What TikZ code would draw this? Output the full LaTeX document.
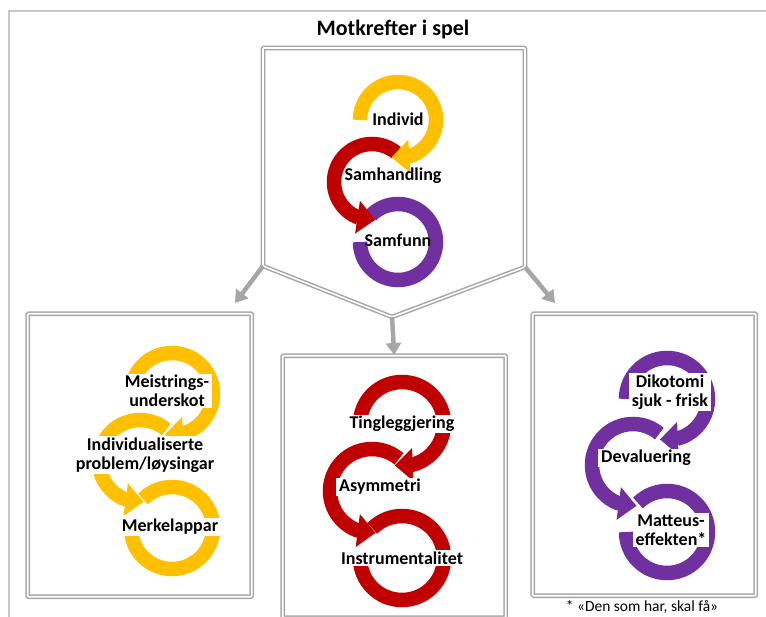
\documentclass[tikz,border=0pt]{standalone}
\usepackage{fontspec}
\setmainfont{Carlito}
\usetikzlibrary{arrows.meta,bending}

\definecolor{ringyellow}{RGB}{255,192,0}
\definecolor{ringred}{RGB}{192,0,0}
\definecolor{ringpurple}{RGB}{112,48,160}
\definecolor{framegray}{RGB}{166,166,166}
\definecolor{pagegray}{RGB}{200,200,200}

\tikzset{
  panel/.style={draw=framegray, line width=1.5pt, double=white, double distance=1.6pt, rounded corners=1pt},
  flow/.style={draw=framegray, line width=4.5pt, -{Triangle[width=15pt,length=12pt]}},
  band/.style={line width=14.5pt},
  bandhead/.style={-{Triangle[width=32pt,length=18pt]}},
  lbl/.style={font=\fontsize{18}{18.5}\selectfont\bfseries, align=center, inner sep=1pt},
  boxlbl/.style={lbl, fill=white, inner xsep=3pt, inner ysep=1.5pt},
}

% three linked circular arrows: #1 colour, #2 #3 #4 centres (top, middle, bottom), #5 radius
\newcommand{\ringtrio}[5]{%
  \draw[band, #1] ([shift={(-135:#5)}]#4) arc[start angle=-135, end angle=180, radius=#5];
  \draw[band, bandhead, #1] ([shift={(-50:#5)}]#3) arc[start angle=-50, end angle=-275, radius=#5];
  \draw[band, bandhead, #1] ([shift={(-180:#5)}]#2) arc[start angle=-180, end angle=100, radius=#5];
}

\begin{document}
\begin{tikzpicture}[x=1pt, y=-1pt]
\useasboundingbox (0,0) rectangle (766,617);

% page frame
\coordinate (fb) at (9,617);
\coordinate (fc) at (9,11);
\coordinate (fr) at (766,11);
\draw[pagegray, line width=1.5pt] (fb) -- (fc) -- (fr);

% title
\node[font=\fontsize{22}{26}\selectfont\bfseries] (title) at (393,30) {Motkrefter i spel};

% top panel (pentagon)
\coordinate (tA) at (263,48);
\coordinate (tB) at (525,48);
\coordinate (tR) at (525,267);
\coordinate (tV) at (392,317);
\coordinate (tL) at (263,266);
\draw[panel] (tA) -- (tB) -- (tR) -- (tV) -- (tL) -- cycle;

% bottom panels
\node[panel, anchor=north west, minimum width=224pt, minimum height=283pt, inner sep=0pt] (pl) at (27,313) {};
\node[panel, anchor=north west, minimum width=223pt, minimum height=262pt, inner sep=0pt] (pm) at (282,355) {};
\node[panel, anchor=north west, minimum width=223pt, minimum height=282pt, inner sep=0pt] (pr) at (532,313) {};

% connectors
\coordinate (aL) at (235,303);
\coordinate (aR) at (555,303);
\draw[flow] (tL) -- (aL);
\draw[flow] (tV) -- (pm.north);
\draw[flow] (tR) -- (aR);

% top panel rings
\coordinate (t1) at (398,120);
\coordinate (t2) at (372,182);
\coordinate (t3) at (398,242);
\draw[band, ringpurple] ([shift={(-135:38)}]t3) arc[start angle=-135, end angle=180, radius=38];
\draw[band, bandhead, ringred] ([shift={(-50:38)}]t2) arc[start angle=-50, end angle=-275, radius=38];
\draw[band, bandhead, ringyellow] ([shift={(-180:38)}]t1) arc[start angle=-180, end angle=100, radius=38];
\node[lbl] (individ) at (398,119) {Individ};
\node[lbl] (samhandling) at (393,176) {Samhandling};
\node[lbl] (samfunn) at (398,240) {Samfunn};

% left panel
\coordinate (l1) at (172,394);
\coordinate (l2) at (140,461);
\coordinate (l3) at (172,528);
\ringtrio{ringyellow}{l1}{l2}{l3}{41}
\node[boxlbl] (meistring) at (167,391) {Meistrings-\\underskot};
\node[boxlbl] (individual) at (145,455) {Individualiserte\\problem/løysingar};
\node[boxlbl] (merkelappar) at (170,527) {Merkelappar};

% middle panel
\coordinate (m1) at (402,424);
\coordinate (m2) at (372,491);
\coordinate (m3) at (402,558);
\ringtrio{ringred}{m1}{m2}{m3}{42}
\node[boxlbl] (tinglegg) at (402,424) {Tingleggjering};
\node[boxlbl] (asym) at (380,487) {Asymmetri};
\node[boxlbl] (instrument) at (402,558) {Instrumentalitet};

% right panel
\coordinate (r1) at (667,399);
\coordinate (r2) at (633,465);
\coordinate (r3) at (667,532);
\ringtrio{ringpurple}{r1}{r2}{r3}{41}
\node[boxlbl] (dikotomi) at (670,392) {Dikotomi\\sjuk - frisk};
\node[boxlbl] (devaluering) at (646,458) {Devaluering};
\node[boxlbl] (matteus) at (671,530) {Matteus-\\effekten*};

% footnote
\node[font=\fontsize{15.5}{17}\selectfont] (note) at (642,607) {* «Den som har, skal få»};
\end{tikzpicture}
\end{document}
